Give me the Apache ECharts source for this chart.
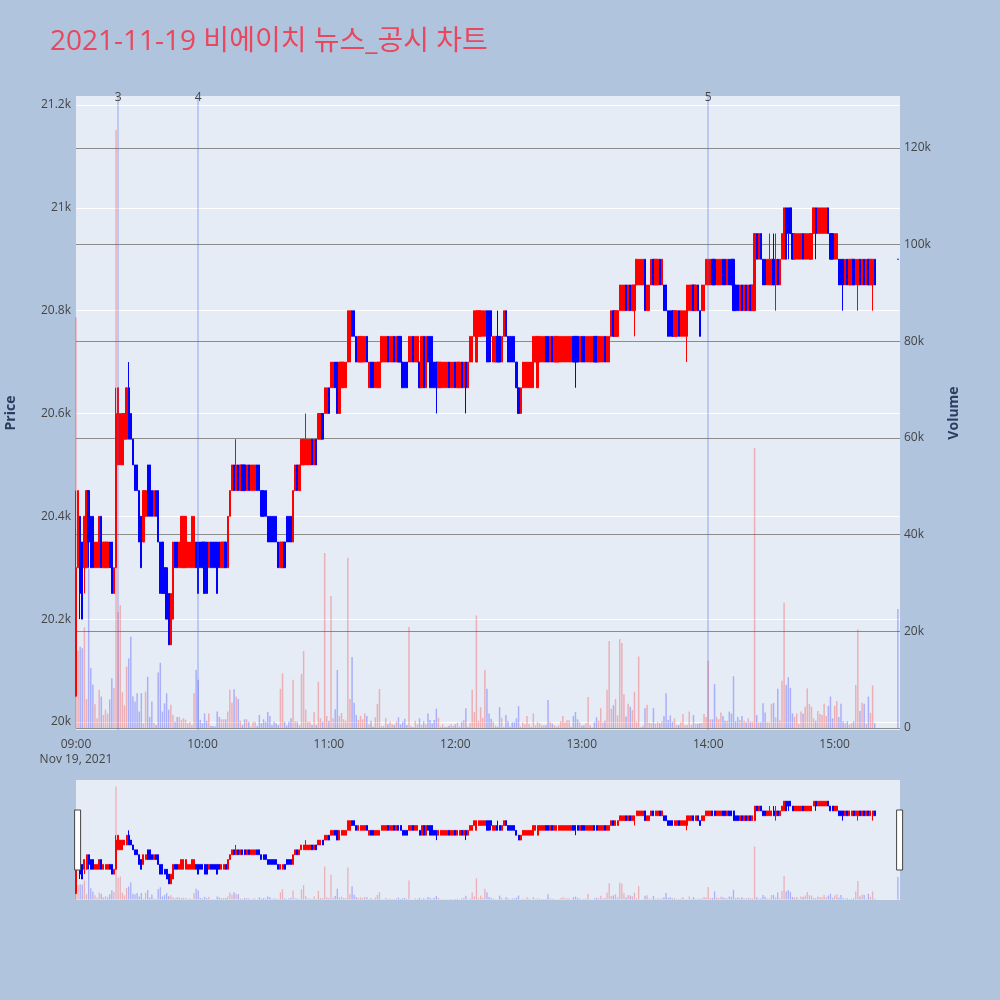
<!DOCTYPE html>
<html><head><meta charset="utf-8">
<script src="https://cdn.jsdelivr.net/npm/echarts@6/dist/echarts.min.js"></script>
<style>html,body{margin:0;padding:0;background:#b0c4de;}#chart{width:1000px;height:1000px;}</style>
</head><body><div id="chart"></div>
<script>
// minute categories 09:00 .. 15:31
const categories = [];
for (let h = 9; h <= 15; h++) {
  for (let mm = 0; mm < 60; mm++) {
    if (h === 15 && mm > 31) break;
    categories.push(String(h).padStart(2, '0') + ':' + String(mm).padStart(2, '0'));
  }
}
const N = null;
// [open, close, low, high] per minute
const candles = [
[20050,20300,20050,20450],[20300,20450,20300,20450],[20400,20250,20200,20400],[20350,20200,20200,20350],[20300,20400,20250,20400],[20300,20450,20300,20450],[20450,20350,20300,20450],[20400,20300,20300,20400],[20400,20300,20300,20400],[20300,20350,20300,20350],
[20300,20350,20300,20350],[20300,20400,20300,20400],[20400,20300,20300,20400],[20300,20350,20300,20350],[20300,20350,20300,20350],[20300,20350,20300,20350],[20350,20300,20300,20350],[20350,20250,20250,20350],[20250,20300,20250,20300],[20300,20600,20300,20650],
[20500,20650,20500,20650],[20500,20600,20500,20600],[20500,20600,20500,20600],[20550,20600,20550,20600],[20550,20650,20550,20650],[20650,20550,20550,20700],[20600,20550,20550,20600],[20550,20500,20500,20550],[20500,20450,20450,20500],[20500,20450,20450,20500],
[20450,20350,20350,20450],[20400,20300,20300,20400],[20350,20450,20350,20450],[20400,20450,20400,20450],[20500,20400,20400,20500],[20500,20400,20400,20500],[20450,20400,20400,20450],[20400,20450,20400,20450],[20450,20400,20400,20450],[20450,20350,20350,20450],
[20350,20250,20250,20350],[20350,20250,20250,20350],[20300,20250,20250,20300],[20300,20200,20200,20300],[20250,20150,20150,20250],[20150,20250,20150,20250],[20200,20350,20200,20350],[20350,20300,20300,20350],[20350,20300,20300,20350],[20300,20350,20300,20350],
[20300,20400,20300,20400],[20300,20400,20300,20400],[20300,20400,20300,20400],[20300,20350,20300,20350],[20300,20350,20300,20350],[20300,20400,20300,20400],[20300,20400,20300,20400],[20350,20300,20300,20350],[20350,20250,20250,20350],[20350,20300,20300,20350],
[20350,20300,20300,20350],[20350,20250,20250,20350],[20350,20250,20250,20350],[20300,20350,20300,20350],[20350,20300,20300,20350],[20350,20300,20300,20350],[20350,20300,20300,20350],[20350,20250,20250,20350],[20350,20300,20300,20350],[20300,20350,20300,20350],
[20300,20350,20300,20350],[20350,20300,20300,20350],[20300,20400,20300,20400],[20400,20450,20400,20450],[20450,20500,20450,20500],[20500,20450,20450,20500],[20450,20500,20450,20550],[20500,20450,20450,20500],[20450,20500,20450,20500],[20500,20450,20450,20500],
[20500,20450,20450,20500],[20450,20500,20450,20500],[20500,20450,20450,20500],[20450,20500,20450,20500],[20450,20500,20450,20500],[20450,20500,20450,20500],[20500,20450,20450,20500],[20500,20450,20450,20500],[20450,20400,20400,20450],[20450,20400,20400,20450],
[20450,20400,20400,20450],[20400,20350,20350,20400],[20400,20350,20350,20400],[20400,20350,20350,20400],[20400,20350,20350,20400],[20400,20350,20350,20400],[20350,20300,20300,20350],[20300,20350,20300,20350],[20300,20350,20300,20350],[20350,20300,20300,20350],
[20400,20350,20350,20400],[20400,20350,20350,20400],[20400,20350,20350,20400],[20350,20450,20350,20450],[20450,20500,20450,20500],[20500,20450,20450,20500],[20450,20500,20450,20500],[20500,20550,20500,20550],[20500,20550,20500,20550],[20500,20550,20500,20600],
[20500,20550,20500,20550],[20500,20550,20500,20550],[20550,20500,20500,20550],[20500,20550,20500,20550],[20550,20500,20500,20550],[20550,20600,20550,20600],[20550,20600,20550,20600],[20600,20550,20550,20600],[20600,20650,20600,20650],[20600,20650,20600,20650],
[20650,20600,20600,20650],[20650,20700,20650,20700],[20650,20700,20650,20700],[20700,20650,20650,20700],[20700,20600,20600,20700],[20600,20700,20600,20700],[20650,20700,20650,20700],[20650,20700,20650,20700],[20650,20700,20650,20700],[20700,20800,20700,20800],
[20700,20800,20700,20800],[20800,20750,20750,20800],[20800,20750,20750,20800],[20750,20700,20700,20750],[20700,20750,20700,20750],[20700,20750,20700,20750],[20700,20750,20700,20750],[20700,20750,20700,20750],[20750,20700,20700,20750],[20650,20700,20650,20700],
[20700,20650,20650,20700],[20700,20650,20650,20700],[20650,20700,20650,20700],[20650,20700,20650,20700],[20650,20700,20650,20700],[20700,20750,20700,20750],[20700,20750,20700,20750],[20700,20750,20700,20750],[20750,20700,20700,20750],[20700,20750,20700,20750],
[20700,20750,20700,20750],[20750,20700,20700,20750],[20700,20750,20700,20750],[20750,20700,20700,20750],[20750,20700,20700,20750],[20700,20650,20650,20700],[20700,20650,20650,20700],[20700,20650,20650,20700],[20700,20750,20700,20750],[20700,20750,20700,20750],
[20750,20700,20700,20750],[20700,20750,20700,20750],[20700,20750,20700,20750],[20700,20650,20650,20700],[20650,20750,20650,20750],[20750,20650,20650,20750],[20650,20750,20650,20750],[20750,20700,20700,20750],[20750,20650,20650,20750],[20750,20650,20650,20750],
[20700,20650,20650,20700],[20700,20650,20600,20700],[20650,20700,20650,20700],[20650,20700,20650,20700],[20650,20700,20650,20700],[20650,20700,20650,20700],[20650,20700,20650,20700],[20700,20650,20650,20700],[20650,20700,20650,20700],[20650,20700,20650,20700],
[20700,20650,20650,20700],[20650,20700,20650,20700],[20650,20700,20650,20700],[20700,20650,20650,20700],[20650,20700,20650,20700],[20700,20650,20600,20700],[20650,20700,20650,20700],[20700,20750,20700,20750],[20700,20750,20700,20750],[20750,20800,20750,20800],
[20700,20800,20700,20800],[20750,20800,20750,20800],[20750,20800,20750,20800],[20750,20800,20750,20800],[20750,20800,20750,20800],[20800,20700,20700,20800],[20800,20700,20700,20800],[20800,20750,20700,20800],[20700,20750,20700,20750],[20700,20750,20700,20750],
[20750,20700,20700,20800],[20750,20700,20700,20750],[20700,20750,20700,20750],[20750,20800,20750,20800],[20800,20750,20750,20800],[20750,20700,20700,20750],[20750,20700,20700,20750],[20750,20700,20700,20750],[20750,20700,20700,20750],[20700,20650,20650,20700],
[20650,20600,20600,20650],[20600,20650,20600,20650],[20650,20700,20650,20700],[20650,20700,20650,20700],[20650,20700,20650,20700],[20650,20700,20650,20700],[20650,20700,20650,20700],[20650,20750,20650,20750],[20700,20750,20700,20750],[20650,20750,20650,20750],
[20700,20750,20700,20750],[20700,20750,20700,20750],[20700,20750,20700,20750],[20750,20700,20700,20750],[20750,20700,20700,20750],[20700,20750,20700,20750],[20750,20700,20700,20750],[20700,20750,20700,20750],[20700,20750,20700,20750],[20700,20750,20700,20750],
[20700,20750,20700,20750],[20700,20750,20700,20750],[20700,20750,20700,20750],[20700,20750,20700,20750],[20700,20750,20700,20750],[20700,20750,20700,20750],[20750,20700,20700,20750],[20750,20700,20650,20750],[20750,20700,20700,20750],[20700,20750,20700,20750],
[20750,20700,20700,20750],[20750,20700,20700,20750],[20700,20750,20700,20750],[20700,20750,20700,20750],[20700,20750,20700,20750],[20700,20750,20700,20750],[20750,20700,20700,20750],[20750,20700,20700,20750],[20700,20750,20700,20750],[20700,20750,20700,20750],
[20700,20750,20700,20750],[20750,20700,20700,20750],[20700,20750,20700,20750],[20700,20750,20700,20750],[20750,20800,20750,20800],[20800,20750,20750,20800],[20750,20800,20750,20800],[20750,20800,20750,20800],[20800,20850,20800,20850],[20800,20850,20800,20850],
[20800,20850,20800,20850],[20850,20800,20800,20850],[20800,20850,20800,20850],[20850,20800,20800,20850],[20800,20850,20800,20850],[20800,20850,20750,20850],[20850,20900,20850,20900],[20850,20900,20850,20900],[20850,20900,20850,20900],[20850,20900,20850,20900],
[20900,20800,20800,20900],[20800,20850,20800,20850],[20800,20850,20800,20850],[20850,20900,20850,20900],[20900,20850,20850,20900],[20850,20900,20850,20900],[20850,20900,20850,20900],[20900,20850,20850,20900],[20850,20900,20850,20900],[20850,20800,20800,20850],
[20850,20800,20800,20850],[20800,20750,20750,20800],[20800,20750,20750,20800],[20800,20750,20750,20800],[20750,20800,20750,20800],[20750,20800,20750,20800],[20800,20750,20750,20800],[20750,20800,20750,20800],[20750,20800,20750,20800],[20750,20800,20750,20800],
[20750,20850,20700,20850],[20800,20850,20800,20850],[20800,20850,20800,20850],[20850,20800,20800,20850],[20800,20850,20800,20850],[20850,20800,20800,20850],[20800,20750,20750,20800],[20800,20850,20800,20850],[20800,20850,20800,20850],[20850,20900,20850,20900],
[20850,20900,20850,20900],[20850,20900,20850,20900],[20900,20850,20850,20900],[20900,20850,20850,20900],[20850,20900,20850,20900],[20850,20900,20850,20900],[20850,20900,20850,20900],[20900,20850,20850,20900],[20900,20850,20850,20900],[20850,20900,20850,20900],
[20900,20850,20850,20900],[20900,20850,20850,20900],[20900,20800,20800,20900],[20850,20800,20800,20850],[20850,20800,20800,20850],[20800,20850,20800,20850],[20850,20800,20800,20850],[20800,20850,20800,20850],[20850,20800,20800,20850],[20800,20850,20800,20850],
[20850,20800,20800,20850],[20800,20850,20800,20850],[20800,20950,20800,20950],[20950,20900,20900,20950],[20900,20950,20900,20950],[20950,20900,20900,20950],[20900,20850,20850,20900],[20900,20850,20850,20900],[20850,20900,20850,20900],[20850,20900,20850,20950],
[20850,20900,20850,20900],[20900,20850,20850,20950],[20850,20900,20800,20950],[20900,20850,20850,20900],[20850,20900,20850,20900],[20900,20950,20900,20950],[20900,21000,20900,21000],[21000,20900,20900,21000],[21000,20950,20900,21000],[21000,20950,20950,21000],
[20950,20900,20900,20950],[20900,20950,20900,20950],[20900,20950,20900,20950],[20900,20950,20900,20950],[20900,20950,20900,20950],[20950,20900,20900,20950],[20900,20950,20900,20950],[20900,20950,20900,20950],[20900,20950,20900,20950],[20900,20950,20900,20950],
[20950,21000,20950,21000],[21000,20950,20900,21000],[20950,21000,20950,21000],[20950,21000,20950,21000],[20950,21000,20950,21000],[20950,21000,20950,21000],[20950,21000,20950,21000],[21000,20950,20950,21000],[20950,20900,20900,20950],[20950,20900,20900,20950],
[20900,20950,20900,20950],[20900,20950,20900,20950],[20900,20850,20850,20900],[20900,20850,20850,20900],[20900,20850,20800,20900],[20850,20900,20850,20900],[20900,20850,20850,20900],[20850,20900,20850,20900],[20850,20900,20850,20900],[20900,20850,20850,20900],
[20850,20900,20850,20900],[20850,20900,20800,20900],[20900,20850,20850,20900],[20850,20900,20850,20900],[20900,20850,20850,20900],[20850,20900,20850,20900],[20900,20850,20850,20900],[20850,20900,20850,20900],[20850,20900,20800,20900],[20900,20850,20850,20900],
N,N,N,N,N,N,N,N,N,N,
[20900,20900,20900,20900],N
];
const volumes = [
85000,16000,16800,16500,20800,6000,33000,12400,9000,4900,
2000,7900,6500,2700,3800,3000,5900,10300,8300,123700,
24000,25400,7400,4700,12700,14400,18900,6500,5500,7200,
3400,7200,1000,7500,10600,2300,5500,1100,600,11500,
13500,3400,5100,7200,3800,4800,2700,1300,2300,2300,
1700,2000,1700,1000,1300,600,7200,12000,10000,1700,
1000,3000,1500,3000,400,400,300,3400,2300,1800,
1800,1800,3400,7900,5200,8000,6500,6000,1500,600,
1800,1800,1300,300,1300,1300,400,2700,1000,1800,
1300,3300,2500,600,1300,1000,600,8100,11300,1300,
500,1300,2000,10000,1400,1300,600,11200,15900,3800,
1300,1300,600,3300,600,9600,2000,1300,36200,2500,
1500,27300,2000,3900,12000,2500,3100,1800,1500,35200,
6000,14700,5200,2700,1650,2500,1800,3000,2500,760,
1500,280,2200,5000,8100,410,410,2000,760,1300,
760,620,1300,2200,760,1300,1900,620,20900,410,
140,1500,760,2000,620,1400,760,3000,1650,970,
1650,4000,2100,280,760,280,280,480,760,480,
760,1100,280,1300,1650,4100,280,1100,7900,3300,
23300,1500,4300,2100,12000,8100,3000,1900,1300,480,
280,4300,2100,280,2700,1400,280,1200,1200,2000,
4500,280,1200,760,2500,900,280,3000,550,1300,
970,550,550,550,5800,1300,900,550,280,550,
1400,2500,1200,1600,1600,280,2500,3300,1800,1200,
480,550,970,6400,550,140,1200,2200,1500,4100,
1200,1500,7900,18000,4000,4700,6000,2600,18400,17600,
7000,2400,5000,4400,3700,7500,1300,14800,140,480,
4100,4800,1100,970,4100,900,1300,970,1400,2500,
7200,1650,2600,1300,2000,620,620,1200,2900,620,
620,3400,620,2700,900,900,970,1100,2900,2300,
13900,1800,1800,9100,2300,1800,3200,2500,1500,1500,
3400,3000,10700,1400,2300,1650,2500,1500,1200,2000,
1300,1300,58000,2700,1200,1200,5100,3200,1200,1200,
5000,5200,2200,8100,1600,9800,25900,8900,10500,8300,
3000,2300,3000,900,3400,3000,4400,8200,5000,4400,
2000,1500,3500,2900,2700,5000,2500,4600,6500,2000,
4600,5600,2300,5000,1400,1000,1400,700,1000,1400,
8900,20400,3500,5200,5000,900,6500,3100,8800,1000,
N,N,N,N,N,N,N,N,N,N,
24600,N
];
// disclosure events (minutes after 09:00) and their labels
const eventMinutes = [19.5, 57.9, 300];
const eventLabels = ['3', '4', '5'];
const priceTicks = { min: 19984.4, max: 21217.5 };
const volumeTicks = { min: -414, max: 130760 };

const UP = '#ff0000', DOWN = '#0000ff';
const UPV = 'rgba(255,0,0,0.26)', DOWNV = 'rgba(0,0,255,0.26)';
const font = "'Open Sans', 'Noto Sans CJK KR', sans-serif";

const candleData = candles.map(c => c == null ? '-' : c);
const volumeData = volumes.map((v, i) => v == null ? '-' : {
  value: v,
  itemStyle: { color: (candles[i] && candles[i][1] > candles[i][0]) ? UPV : DOWNV }
});
const kFmt = v => (v === 0 ? '0' : (v / 1000) + 'k');

const chart = echarts.init(document.getElementById('chart'));
const candleStyle = { color: UP, color0: DOWN, borderColor: UP, borderColor0: DOWN, borderWidth: 1 };

chart.setOption({
  backgroundColor: '#b0c4de',
  animation: false,
  title: {
    text: '2021-11-19 비에이치 뉴스_공시 차트', left: 50, top: 28, padding: 0,
    textStyle: { color: '#e8475d', fontSize: 28, fontWeight: 'normal', fontFamily: font }
  },
  grid: [
    { left: 76, right: 100, top: 96, height: 634, show: true, backgroundColor: '#e5ecf6', borderWidth: 0, outerBoundsMode: 'none', containLabel: false },
    { left: 76, right: 100, top: 780, height: 120, show: true, backgroundColor: '#e5ecf6', borderWidth: 0, outerBoundsMode: 'none', containLabel: false }
  ],
  xAxis: [
    {
      type: 'category', gridIndex: 0, data: categories, boundaryGap: false,
      axisLine: { show: false }, axisTick: { show: false }, splitLine: { show: false },
      axisLabel: {
        interval: (i, v) => v.endsWith(':00'),
        formatter: v => v === '09:00' ? '09:00\nNov 19, 2021' : v,
        color: '#444', fontSize: 12, fontFamily: font, margin: 7, lineHeight: 15
      }
    },
    {
      type: 'category', gridIndex: 1, data: categories, boundaryGap: false,
      axisLine: { show: false }, axisTick: { show: false }, axisLabel: { show: false }, splitLine: { show: false }
    }
  ],
  yAxis: [
    {
      type: 'value', gridIndex: 0, position: 'left', min: priceTicks.min, max: priceTicks.max, splitNumber: 6,
      name: 'Price', nameLocation: 'middle', nameGap: 58,
      nameTextStyle: { color: '#2a3f5f', fontSize: 14, fontWeight: 'bold', fontFamily: font },
      axisLine: { show: false }, axisTick: { show: false },
      axisLabel: { formatter: kFmt, showMinLabel: false, showMaxLabel: false, color: '#444', fontSize: 12, fontFamily: font, margin: 5 },
      splitLine: { show: true, showMinLine: false, showMaxLine: false, lineStyle: { color: '#ffffff', width: 1 } }
    },
    {
      type: 'value', gridIndex: 0, position: 'right', min: volumeTicks.min, max: volumeTicks.max, splitNumber: 6,
      name: 'Volume', nameLocation: 'middle', nameGap: 47,
      nameTextStyle: { color: '#2a3f5f', fontSize: 14, fontWeight: 'bold', fontFamily: font },
      axisLine: { show: false }, axisTick: { show: false },
      axisLabel: { formatter: kFmt, showMinLabel: false, showMaxLabel: false, color: '#444', fontSize: 12, fontFamily: font, margin: 4 },
      splitLine: { show: true, showMinLine: false, showMaxLine: false, lineStyle: { color: '#8c8c8c', width: 1.2 } }
    },
    { type: 'value', gridIndex: 1, min: priceTicks.min, max: priceTicks.max, show: false, splitLine: { show: false } },
    { type: 'value', gridIndex: 1, min: volumeTicks.min, max: volumeTicks.max, show: false, splitLine: { show: false } }
  ],
  dataZoom: [{
    type: 'slider', xAxisIndex: [0, 1], start: 0, end: 100, filterMode: 'none',
    left: 76, right: 100, top: 780, height: 120,
    showDataShadow: false, showDetail: false, brushSelect: false, zoomLock: true,
    backgroundColor: 'rgba(0,0,0,0)', fillerColor: 'rgba(0,0,0,0)', borderColor: 'rgba(0,0,0,0)',
    handleIcon: 'path://M0,0 L6,0 L6,60 L0,60 Z', handleSize: '50%',
    handleStyle: { color: '#ffffff', borderColor: '#444', borderWidth: 1 },
    moveHandleSize: 0, textStyle: { color: 'rgba(0,0,0,0)' }
  }],
  series: [
    {
      type: 'bar', name: 'Volume', xAxisIndex: 0, yAxisIndex: 1, data: volumeData,
      barWidth: 1.5, z: 1, silent: true
    },
    {
      type: 'candlestick', name: 'Price', xAxisIndex: 0, yAxisIndex: 0, data: candleData,
      barWidth: 1.8, itemStyle: candleStyle, z: 3,
      markLine: {
        silent: true, symbol: ['none', 'none'], animation: false,
        lineStyle: { color: 'rgba(70,100,235,0.35)', width: 1.5, type: 'solid' },
        label: { show: true, position: 'end', formatter: '{b}', color: '#444', fontSize: 12, fontFamily: font, distance: -8 },
        data: eventMinutes.map((m, i) => ({ name: eventLabels[i], xAxis: m }))
      }
    },
    {
      type: 'bar', xAxisIndex: 1, yAxisIndex: 3, data: volumeData, barWidth: 1.3, z: 1, silent: true
    },
    {
      type: 'candlestick', xAxisIndex: 1, yAxisIndex: 2, data: candleData, barWidth: 1.5, itemStyle: candleStyle, z: 3, silent: true
    }
  ]
});
</script></body></html>
